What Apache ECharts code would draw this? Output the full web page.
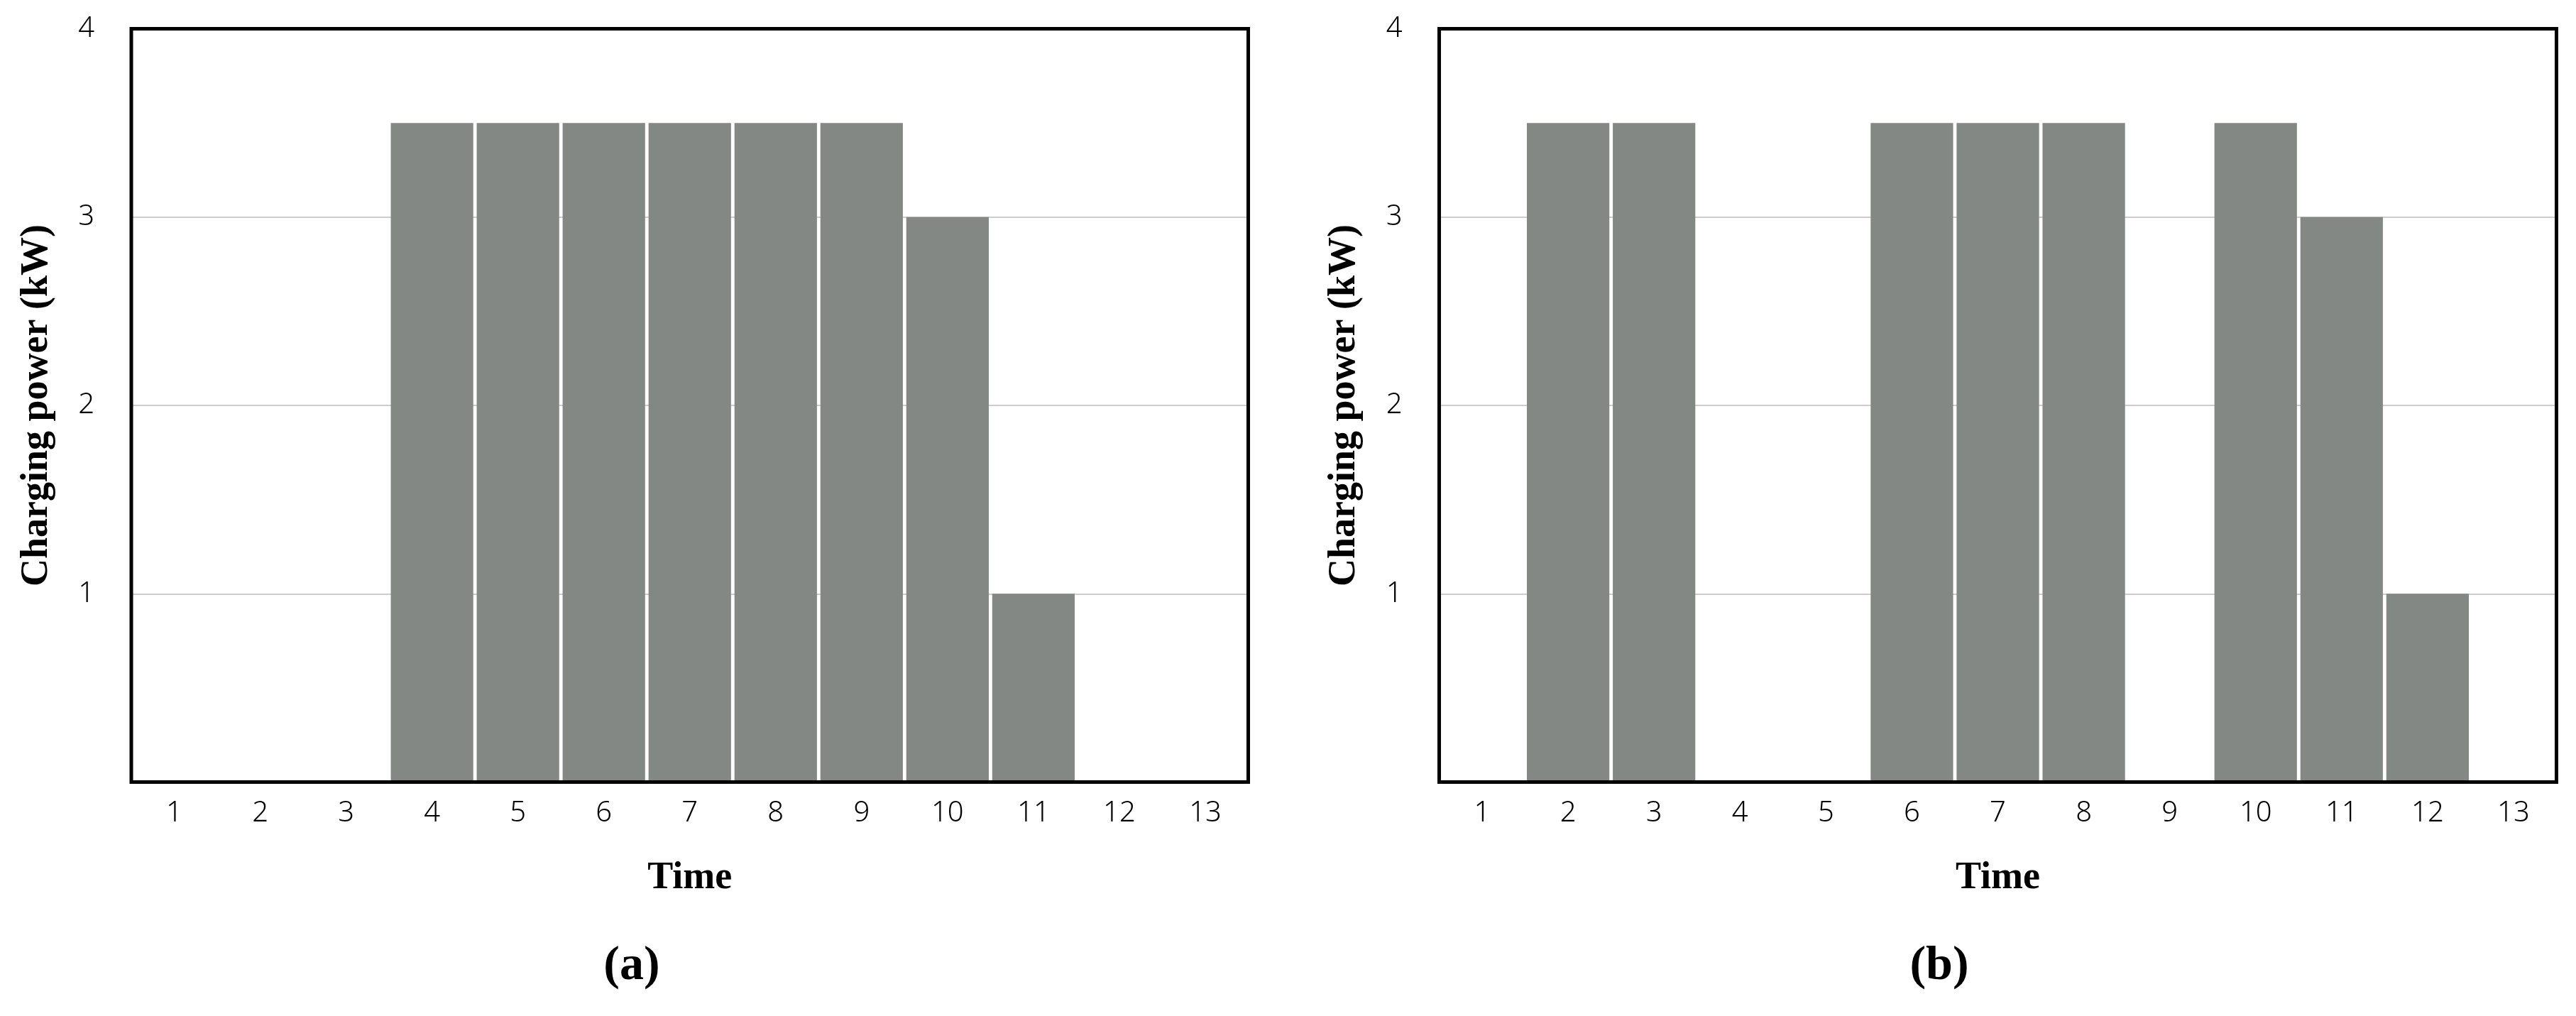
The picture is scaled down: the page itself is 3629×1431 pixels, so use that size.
<!DOCTYPE html>
<html>
<head>
<meta charset="utf-8">
<script src="https://cdn.jsdelivr.net/npm/echarts@6/dist/echarts.min.js"></script>
<style>
html, body { margin: 0; padding: 0; background: #fff; }
#chart { width: 3629px; height: 1431px; }
</style>
</head>
<body>
<div id="chart"></div>
<script>
// time slots 1..13
var timeSlots = ['1', '2', '3', '4', '5', '6', '7', '8', '9', '10', '11', '12', '13'];
// charging power (kW), panel (a) and panel (b)
var powerA = [0, 0, 0, 3.5, 3.5, 3.5, 3.5, 3.5, 3.5, 3, 1, 0, 0];
var powerB = [0, 3.5, 3.5, 0, 0, 3.5, 3.5, 3.5, 0, 3.5, 3, 1, 0];
var panelLabels = ['(a)', '(b)'];

var barColor = '#838885';
var tickFont = { fontFamily: 'Noto Sans', fontWeight: 300, fontSize: 40, color: '#000' };
var nameFont = { fontFamily: 'Liberation Serif', fontWeight: 'bold', fontSize: 54, color: '#000' };

// two grids side by side
var grids = [
    { left: 185, top: 40.5, width: 1573.5, height: 1061 },
    { left: 2027.5, top: 40.5, width: 1574, height: 1061 }
];

var xAxes = [] ;
var yAxes = [] ;
var series = [] ;
var allData = [powerA, powerB];
for (var i = 0 ; i < 2 ; i++) {
    grids[i].show = true;
    grids[i].borderColor = '#000';
    grids[i].borderWidth = 5;
    grids[i].z = 5;

    xAxes.push({
        type: 'category',
        gridIndex: i,
        data: timeSlots,
        name: 'Time',
        nameLocation: 'middle',
        nameGap: 109,
        nameTextStyle: nameFont,
        axisLine: { show: false },
        axisTick: { show: false },
        axisLabel: Object.assign({ margin: 24 }, tickFont)
    });
    yAxes.push({
        type: 'value',
        gridIndex: i,
        min: 0,
        max: 4,
        interval: 1,
        name: 'Charging power (kW)',
        nameLocation: 'middle',
        nameGap: 106,
        nameTextStyle: nameFont,
        axisLine: { show: false },
        axisTick: { show: false },
        axisLabel: Object.assign({ margin: 52, showMinLabel: false }, tickFont),
        splitLine: { show: true, lineStyle: { color: '#bdbdbd', width: 1.5 } }
    });
    series.push({
        type: 'bar',
        xAxisIndex: i,
        yAxisIndex: i,
        data: allData[i],
        barCategoryGap: '4%',
        itemStyle: { color: barColor },
        silent: true
    });
}

var titles = [];
var panelX = [885, 2727];
for (var k = 0 ; k < panelLabels.length ; k++) {
    titles.push({
        text: panelLabels[k],
        left: panelX[k],
        top: 1322,
        textAlign: 'center',
        textStyle: { fontFamily: 'Liberation Serif', fontWeight: 'bold', fontSize: 68, color: '#000' }
    });
}

var myChart = echarts.init(document.getElementById('chart'));
myChart.setOption({
    animation: false,
    backgroundColor: '#fff',
    title: titles,
    grid: grids,
    xAxis: xAxes,
    yAxis: yAxes,
    series: series
});
</script>
</body>
</html>
